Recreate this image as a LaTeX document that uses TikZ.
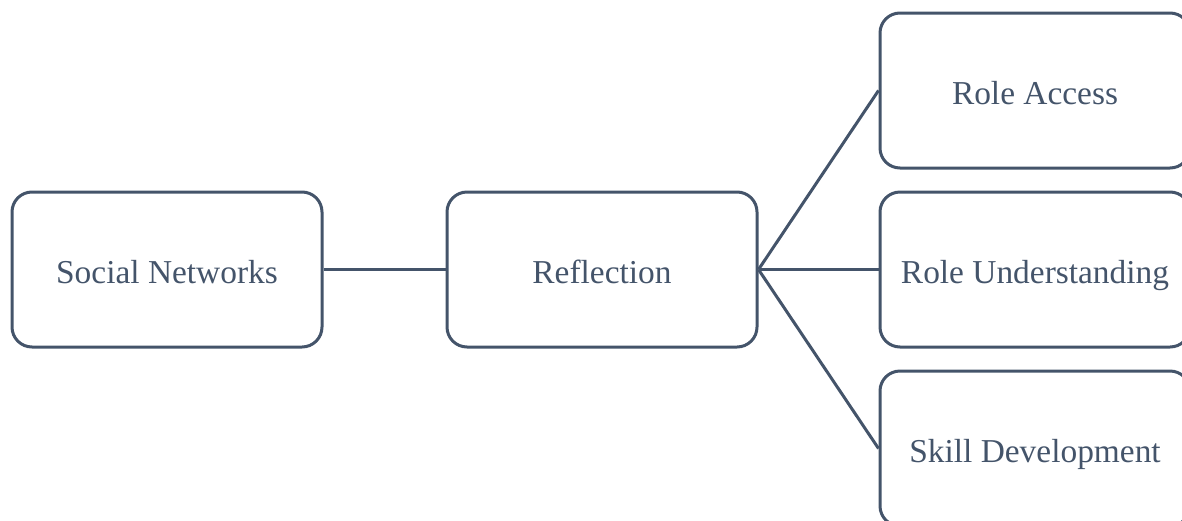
\documentclass[tikz,border=0pt]{standalone}
\usepackage{fontspec}
\setmainfont{Liberation Serif}
\usetikzlibrary{positioning}
\definecolor{slate}{HTML}{44546A}
\begin{document}
\begin{tikzpicture}[
  box/.style={draw=slate, line width=1.5pt, rectangle, rounded corners=10pt,
    minimum width=155pt, minimum height=77.5pt, text=slate,
    text height=14.5pt, text depth=0.8pt,
    font=\fontsize{16.7}{20}\selectfont},
  link/.style={draw=slate, line width=1.5pt}]
  \useasboundingbox (0,0) rectangle (591pt,-260pt);
  \node at (83.5pt, -134.75pt) [box] (social) {Social Networks};
  \node [box, right=61pt of social] (refl) {Reflection};
  \node [box, right=60pt of refl] (underst) {Role Understanding};
  \node [box, above=10.5pt of underst] (access) {Role Access};
  \node [box, below=10.5pt of underst] (skill) {Skill Development};

  \draw[link] (social) -- (refl);
  \draw[link] (refl.east) -- (access.west);
  \draw[link] (refl.east) -- (underst.west);
  \draw[link] (refl.east) -- (skill.west);
\end{tikzpicture}
\end{document}
